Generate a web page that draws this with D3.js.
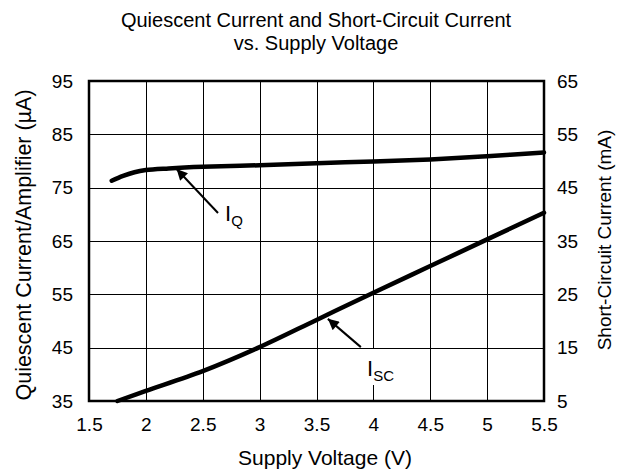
<!DOCTYPE html>
<html>
<head>
<meta charset="utf-8">
<style>
  body { margin: 0; background: #fff; }
  text { font-family: Arial, "Liberation Sans", sans-serif; fill: #000; }
</style>
</head>
<body>
<div id="chart"></div>
<script src="https://cdn.jsdelivr.net/npm/d3@7"></script>
<script>
// values
var iqVolts = [1.7, 1.8, 1.9, 2.0, 2.2, 2.5, 3.0, 3.5, 4.0, 4.5, 5.0, 5.5];
var iqValues = [76.3, 77.2, 77.9, 78.3, 78.6, 78.9, 79.2, 79.6, 79.9, 80.3, 80.9, 81.6];
var iscVolts = [1.75, 2.0, 2.5, 3.0, 3.5, 4.0, 4.5, 5.0, 5.5];
var iscValues = [5.0, 6.9, 10.6, 15.1, 20.2, 25.3, 30.3, 35.3, 40.3];
var xTicks = [1.5, 2, 2.5, 3, 3.5, 4, 4.5, 5, 5.5];
var leftTicks = [35, 45, 55, 65, 75, 85, 95];
var rightTicks = [5, 15, 25, 35, 45, 55, 65];

var width = 617, height = 470;
var margin = {top: 81, right: 73, bottom: 69, left: 89};

var svg = d3.select("#chart").append("svg")
    .attr("width", width)
    .attr("height", height);

var x = d3.scaleLinear().domain([1.5, 5.5]).range([margin.left, width - margin.right]);
var yL = d3.scaleLinear().domain([35, 95]).range([height - margin.bottom, margin.top]);
var yR = d3.scaleLinear().domain([5, 65]).range([height - margin.bottom, margin.top]);

// grid
svg.append("g")
  .selectAll("line")
  .data(xTicks)
  .join("line")
    .attr("x1", d => Math.round(x(d)) + 0.5)
    .attr("x2", d => Math.round(x(d)) + 0.5)
    .attr("y1", margin.top)
    .attr("y2", height - margin.bottom)
    .attr("stroke", "#000")
    .attr("stroke-width", 1);

svg.append("g")
  .selectAll("line")
  .data(leftTicks)
  .join("line")
    .attr("y1", d => Math.round(yL(d)) + 0.5)
    .attr("y2", d => Math.round(yL(d)) + 0.5)
    .attr("x1", margin.left)
    .attr("x2", width - margin.right)
    .attr("stroke", "#000")
    .attr("stroke-width", 1);

// white box behind the I_SC label hides part of the 4 V grid line
svg.append("rect")
    .attr("x", x(3.88)).attr("y", yR(14.75))
    .attr("width", x(4.19) - x(3.88)).attr("height", yR(8.0) - yR(14.75))
    .attr("fill", "#fff");

// frame
svg.append("rect")
    .attr("x", margin.left)
    .attr("y", margin.top)
    .attr("width", width - margin.left - margin.right)
    .attr("height", height - margin.top - margin.bottom)
    .attr("fill", "none")
    .attr("stroke", "#000")
    .attr("stroke-width", 2.5);

// axes (labels only)
var xAxis = svg.append("g")
    .attr("transform", `translate(0,${height - margin.bottom})`)
    .call(d3.axisBottom(x).tickValues(xTicks).tickSize(0).tickPadding(17).tickFormat(d3.format("")));
var lAxis = svg.append("g")
    .attr("transform", `translate(${margin.left},0)`)
    .call(d3.axisLeft(yL).tickValues(leftTicks).tickSize(0).tickPadding(16));
var rAxis = svg.append("g")
    .attr("transform", `translate(${width - margin.right},0)`)
    .call(d3.axisRight(yR).tickValues(rightTicks).tickSize(0).tickPadding(13));

[xAxis, lAxis, rAxis].forEach(function(g) {
  g.select(".domain").remove();
  g.selectAll("text")
    .attr("font-family", "Arial, 'Liberation Sans', sans-serif")
    .attr("font-size", 19)
    .attr("fill", "#000");
});

// curves
var line = d3.line().curve(d3.curveCatmullRom.alpha(0.5));

svg.append("path")
    .attr("d", line(iqVolts.map((v, i) => [x(v), yL(iqValues[i])])))
    .attr("fill", "none")
    .attr("stroke", "#000")
    .attr("stroke-width", 4.5)
    .attr("stroke-linecap", "round");

svg.append("path")
    .attr("d", line(iscVolts.map((v, i) => [x(v), yR(iscValues[i])])))
    .attr("fill", "none")
    .attr("stroke", "#000")
    .attr("stroke-width", 4.5)
    .attr("stroke-linecap", "round");

// arrows
svg.append("defs").append("marker")
    .attr("id", "head")
    .attr("viewBox", "0 0 10 10")
    .attr("refX", 10).attr("refY", 5)
    .attr("markerWidth", 13).attr("markerHeight", 11)
    .attr("markerUnits", "userSpaceOnUse")
    .attr("orient", "auto")
  .append("path")
    .attr("d", "M0,0 L10,5 L0,10 Z")
    .attr("fill", "#000");

function arrow(x1, y1, x2, y2) {
  svg.append("line")
      .attr("x1", x1).attr("y1", y1)
      .attr("x2", x2).attr("y2", y2)
      .attr("stroke", "#000")
      .attr("stroke-width", 2)
      .attr("marker-end", "url(#head)");
}
arrow(x(2.634), yL(70.25), x(2.27), yL(78.5));
arrow(x(3.89), yR(15.1), x(3.6), yR(20.4));

// labels
var iq = svg.append("text")
    .attr("x", x(2.696)).attr("y", yL(68.75))
    .attr("font-size", 22);
iq.append("tspan").text("I");
iq.append("tspan").attr("font-size", 15).attr("dy", 5).text("Q");

var isc = svg.append("text")
    .attr("x", x(3.944)).attr("y", yR(9.69))
    .attr("font-size", 22);
isc.append("tspan").text("I");
isc.append("tspan").attr("font-size", 15).attr("dy", 5).text("SC");

// titles
svg.append("text")
    .attr("x", 316).attr("y", 27)
    .attr("text-anchor", "middle")
    .attr("font-size", 20)
    .text("Quiescent Current and Short-Circuit Current");
svg.append("text")
    .attr("x", 316).attr("y", 50)
    .attr("text-anchor", "middle")
    .attr("font-size", 20)
    .text("vs. Supply Voltage");

svg.append("text")
    .attr("x", 325).attr("y", 465)
    .attr("text-anchor", "middle")
    .attr("font-size", 21)
    .text("Supply Voltage (V)");

svg.append("text")
    .attr("transform", "translate(31,245) rotate(-90)")
    .attr("text-anchor", "middle")
    .attr("font-size", 21.5)
    .text("Quiescent Current/Amplifier (\u00b5A)");

svg.append("text")
    .attr("transform", "translate(611,240) rotate(-90)")
    .attr("text-anchor", "middle")
    .attr("font-size", 19)
    .text("Short-Circuit Current (mA)");
</script>
</body>
</html>
